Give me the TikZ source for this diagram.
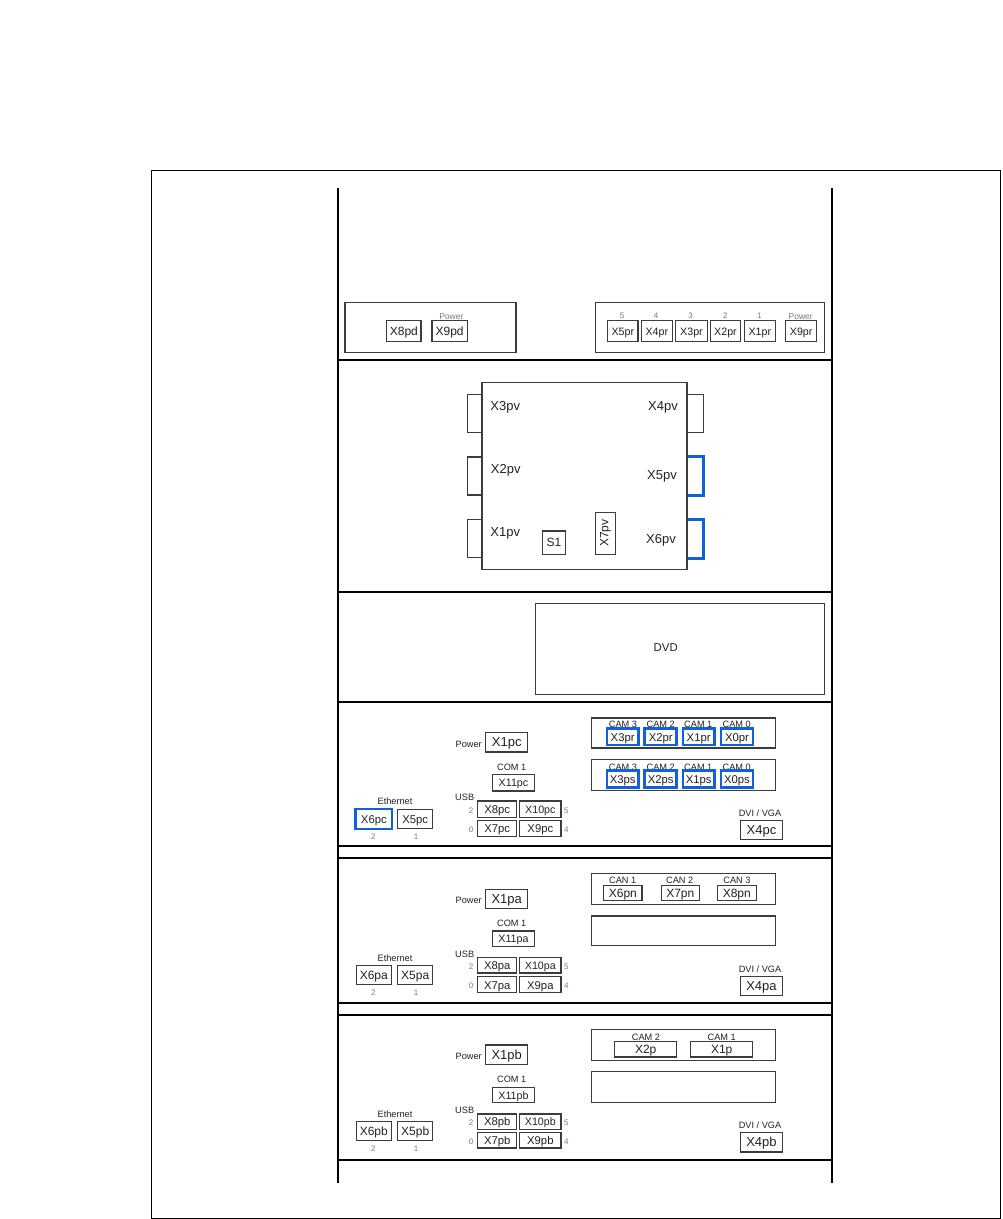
\documentclass[tikz,border=0pt]{standalone}
\usepackage{fontspec}
\setmainfont{Liberation Sans}
\definecolor{portblue}{HTML}{1160DC}
\definecolor{edge}{HTML}{3C3C3C}
\definecolor{lbl}{HTML}{222222}
\definecolor{faint}{HTML}{7A7A7A}
\newcommand\fpx[1]{\fontsize{#1}{#1}\selectfont}
\tikzset{
  rail/.style={draw=black,line width=1.7pt},
  panel/.style={draw=edge,line width=1.1pt,fill=white,inner sep=0pt,outer sep=0pt},
  port/.style={draw=edge,line width=1.1pt,inner sep=0pt,outer sep=0pt,font=\fpx{11.3},text=lbl,text height=.72em+1.4pt,text depth=0pt},
  big/.style={font=\fpx{13}},
  mid/.style={font=\fpx{12}},
  small/.style={font=\fpx{10.7}},
  blue/.style={draw=portblue,line width=2.6pt,font=\fpx{11.3}},
  tag/.style={inner sep=0pt,outer sep=0pt,font=\fpx{9.2},text=lbl,text height=.72em+0.8pt,text depth=0pt},
  num/.style={inner sep=0pt,outer sep=0pt,font=\fpx{8},text=faint},
  pvtext/.style={inner sep=0pt,outer sep=0pt,font=\fpx{13},text=lbl,text height=.72em+1.6pt,text depth=0pt},
}
\newcommand\bx[7][]{\node[port,#1,minimum width={(#5-#3)*1pt},minimum height={(#6-#4)*1pt}] (#2) at ({(#3+#5)/2},{(#4+#6)/2}) {#7};}
\newcommand\pn[6][]{\node[panel,#1,minimum width={(#5-#3)*1pt},minimum height={(#6-#4)*1pt}] (#2) at ({(#3+#5)/2},{(#4+#6)/2}) {};}
\newcommand\lb[5][tag]{\node[#1] (#2) at (#3,#4) {#5};}
\begin{document}
\begin{tikzpicture}[x=1pt,y=-1pt]
\useasboundingbox (0,0) rectangle (1002,1219);
\node[draw=black,line width=1pt,inner sep=0pt,outer sep=0pt,minimum width=849pt,minimum height=1048pt] (frame) at (575.5,694) {};
% rack
\coordinate (railLT) at (337.9,188);
\coordinate (railLB) at (337.9,1183);
\coordinate (railRT) at (831.7,188);
\coordinate (railRB) at (831.7,1183);
\draw[rail] (railLT) -- (railLB);
\draw[rail] (railRT) -- (railRB);
\foreach \yy/\nn in {360/a,592/b,702.3/c,846.2/d,858.3/e,1003/f,1015/g,1159.7/h}{
  \coordinate (sl\nn) at (railLT |- 0,\yy);
  \coordinate (sr\nn) at (railRT |- 0,\yy);
  \draw[rail] (sl\nn) -- (sr\nn);
}
% top unit
\pn{pdPanel}{345}{302.3}{516}{352.3}
\pn{prPanel}{595.7}{302.3}{824.7}{352.3}
\bx[mid]{Xepd}{386.7}{320.7}{421}{341.7}{X8pd}
\bx[mid]{Xnpd}{432}{320.7}{467.3}{341.7}{X9pd}
\lb[tag,text=faint,font=\fpx{8.5}]{pwrD}{451.3}{315.7}{Power}
\bx[small]{Xfpr}{607.7}{320.7}{638}{341.7}{X5pr}
\bx[small]{Xdpr}{641.3}{320.7}{672.3}{341.7}{X4pr}
\bx[small]{Xcpr}{675.7}{320.7}{707.3}{341.7}{X3pr}
\bx[small]{Xbpr}{710.3}{320.7}{740.7}{341.7}{X2pr}
\bx[small]{Xapr}{744.3}{320.7}{775.3}{341.7}{X1pr}
\bx[small]{Xnpr}{785.7}{320.7}{816.7}{341.7}{X9pr}
\lb[num]{nF}{622}{315.7}{5}
\lb[num]{nD}{656}{315.7}{4}
\lb[num]{nC}{690.7}{315.7}{3}
\lb[num]{nB}{725.3}{315.7}{2}
\lb[num]{nA}{759.3}{315.7}{1}
\lb[tag,text=faint,font=\fpx{8.5}]{pwrR}{800.7}{315.7}{Power}
% PV box
\pn[draw=edge]{tabLa}{467.3}{394.3}{482}{432.3}
\pn[draw=edge]{tabLb}{467.3}{457}{482}{495}
\pn[draw=edge]{tabLc}{467.3}{519.3}{482}{557.7}
\pn[draw=edge]{tabRa}{687}{394.3}{703.3}{432.3}
\pn[draw=portblue,line width=2.6pt]{tabRb}{687}{456.7}{703.3}{495.3}
\pn[draw=portblue,line width=2.6pt]{tabRc}{687}{519.7}{703.3}{558.3}
\pn{pvBox}{482}{382.7}{687}{569.3}
\lb[pvtext]{Xcpv}{505.3}{406}{X3pv}
\lb[pvtext]{Xdpv}{663}{406}{X4pv}
\lb[pvtext]{Xbpv}{505.7}{468.7}{X2pv}
\lb[pvtext]{Xfpv}{662}{475.3}{X5pv}
\lb[pvtext]{Xapv}{505.3}{532.3}{X1pv}
\lb[pvtext]{Xgpv}{661}{539}{X6pv}
\bx[mid]{Sone}{542.3}{531}{565.7}{554.3}{S1}
\node[port,mid,text height=,text depth=,minimum width=19.6pt,minimum height=42.3pt] (Xhpv) at (605.5,533.2) {\rotatebox{90}{X7pv}};
% DVD
\pn{dvd}{535.3}{603.3}{824.7}{694.7}
\lb[tag,font=\fpx{11.4}]{dvdT}{665.7}{647}{DVD}
% PC unit
\lb[tag]{pwrC}{468.7}{743.3}{Power}
\bx[big]{Xapc}{485.7}{732.7}{527.7}{752}{X1pc}
\lb[tag]{comC}{511.7}{766.3}{COM 1}
\bx[small]{Xkpc}{492.7}{774.3}{534.3}{791}{X11pc}
\lb[tag]{usbC}{464.7}{796.7}{USB}
\bx{Xhpc}{477.7}{801}{516.7}{817.7}{X8pc}
\bx[small]{Xjpc}{519.7}{801}{561}{817.7}{X10pc}
\bx{Xgpc}{477.7}{820.3}{516.7}{836.7}{X7pc}
\bx{Xipc}{519.7}{820.3}{561}{836.7}{X9pc}
\lb[num]{cU2}{471}{810.3}{2}
\lb[num]{cU0}{471}{829.3}{0}
\lb[num]{cU5}{566.3}{810.3}{5}
\lb[num]{cU4}{566.3}{829.3}{4}
\lb[tag]{ethC}{395}{800.7}{Ethernet}
\bx[blue]{Xfpc}{355.7}{809}{392}{829}{X6pc}
\bx{Xepc}{397.7}{809.3}{432.7}{828.7}{X5pc}
\lb[num]{cE2}{373.3}{836.7}{2}
\lb[num]{cE1}{416}{836.7}{1}
\pn{camR}{591.7}{718}{775.3}{748}
\pn{camS}{591.7}{759.7}{775.3}{790.7}
\lb[tag]{rC3}{623}{723.3}{CAM 3}
\lb[tag]{rC2}{660.7}{723.3}{CAM 2}
\lb[tag]{rC1}{698.3}{723.3}{CAM 1}
\lb[tag]{rC0}{736.7}{723.3}{CAM 0}
\bx[blue]{Xcpr2}{607}{728.7}{638.3}{745}{X3pr}
\bx[blue]{Xbpr2}{644.7}{728.7}{676.7}{745}{X2pr}
\bx[blue]{Xapr2}{683}{728.7}{714.3}{745}{X1pr}
\bx[blue]{Xopr2}{721}{728.7}{753}{745}{X0pr}
\lb[tag]{sC3}{623}{766}{CAM 3}
\lb[tag]{sC2}{660.7}{766}{CAM 2}
\lb[tag]{sC1}{698.3}{766}{CAM 1}
\lb[tag]{sC0}{736.7}{766}{CAM 0}
\bx[blue]{Xcps}{607}{770.3}{638.3}{787.7}{X3ps}
\bx[blue]{Xbps}{644.7}{770.3}{676.7}{787.7}{X2ps}
\bx[blue]{Xaps}{683}{770.3}{714.3}{787.7}{X1ps}
\bx[blue]{Xops}{721}{770.3}{753}{787.7}{X0ps}
\lb[tag]{dviC}{760}{812.7}{DVI / VGA}
\bx[big]{Xdpc}{740.3}{820.3}{782.7}{839.7}{X4pc}
% PA unit
\lb[tag]{pwrA}{468.7}{899}{Power}
\bx[big]{Xapa}{485.7}{889.3}{527.7}{908.3}{X1pa}
\lb[tag]{comA}{511.7}{922.3}{COM 1}
\bx[small]{Xkpa}{492.7}{931}{534.3}{946.3}{X11pa}
\lb[tag]{usbA}{464.7}{953}{USB}
\bx{Xhpa}{477.7}{957.7}{516.7}{973}{X8pa}
\bx[small]{Xjpa}{519.7}{957.7}{561}{973}{X10pa}
\bx{Xgpa}{477.7}{976.7}{516.7}{992.7}{X7pa}
\bx{Xipa}{519.7}{976.7}{561}{992.7}{X9pa}
\lb[num]{aU2}{471}{966.7}{2}
\lb[num]{aU0}{471}{985.7}{0}
\lb[num]{aU5}{566.3}{966.7}{5}
\lb[num]{aU4}{566.3}{985.7}{4}
\lb[tag]{ethA}{395}{957}{Ethernet}
\bx[mid]{Xfpa}{356.3}{965.7}{391.3}{984.3}{X6pa}
\bx[mid]{Xepa}{397.7}{965.7}{432.7}{984.3}{X5pa}
\lb[num]{aE2}{373.3}{992.3}{2}
\lb[num]{aE1}{416}{992.3}{1}
\pn{canP}{591.7}{873.7}{775.3}{904.3}
\pn{blankA}{591.7}{916}{775.3}{945.7}
\lb[tag]{can1}{622.7}{879.7}{CAN 1}
\lb[tag]{can2}{679.7}{879.7}{CAN 2}
\lb[tag]{can3}{737}{879.7}{CAN 3}
\bx[mid]{Xfpn}{603.7}{885.7}{642}{900.7}{X6pn}
\bx[mid]{Xgpn}{661.3}{885.7}{699.3}{900.7}{X7pn}
\bx[mid]{Xhpn}{717.3}{885.7}{756.3}{900.7}{X8pn}
\lb[tag]{dviA}{760}{968.3}{DVI / VGA}
\bx[big]{Xdpa}{740.3}{976.3}{782.7}{995.7}{X4pa}
% PB unit
\lb[tag]{pwrB}{468.7}{1055}{Power}
\bx[big]{Xapb}{485.7}{1045}{527.7}{1064.7}{X1pb}
\lb[tag]{comB}{511.7}{1078.3}{COM 1}
\bx[small]{Xkpb}{492.7}{1087.3}{534.3}{1102.3}{X11pb}
\lb[tag]{usbB}{464.7}{1109.3}{USB}
\bx{Xhpb}{477.7}{1114}{516.7}{1129.3}{X8pb}
\bx[small]{Xjpb}{519.7}{1114}{561}{1129.3}{X10pb}
\bx{Xgpb}{477.7}{1132.7}{516.7}{1148}{X7pb}
\bx{Xipb}{519.7}{1132.7}{561}{1148}{X9pb}
\lb[num]{bU2}{471}{1122.3}{2}
\lb[num]{bU0}{471}{1141.7}{0}
\lb[num]{bU5}{566.3}{1122.3}{5}
\lb[num]{bU4}{566.3}{1141.7}{4}
\lb[tag]{ethB}{395}{1113.3}{Ethernet}
\bx[mid]{Xfpb}{356.3}{1121.3}{391.3}{1140.7}{X6pb}
\bx[mid]{Xepb}{397.7}{1121.3}{432.7}{1140.7}{X5pb}
\lb[num]{bE2}{373.3}{1148.3}{2}
\lb[num]{bE1}{416}{1148.3}{1}
\pn{camB}{591.7}{1029.3}{775.3}{1060.7}
\pn{blankB}{591.7}{1071.3}{775.3}{1102.3}
\lb[tag]{bC2}{646}{1036.3}{CAM 2}
\lb[tag]{bC1}{721.7}{1036.3}{CAM 1}
\bx[mid]{Xbp}{614.7}{1041.3}{676.7}{1057}{X2p}
\bx[mid]{Xap}{690.7}{1041.3}{752.7}{1057}{X1p}
\lb[tag]{dviB}{760}{1124}{DVI / VGA}
\bx[big]{Xdpb}{740.3}{1132.3}{782.7}{1152}{X4pb}
\end{tikzpicture}
\end{document}
